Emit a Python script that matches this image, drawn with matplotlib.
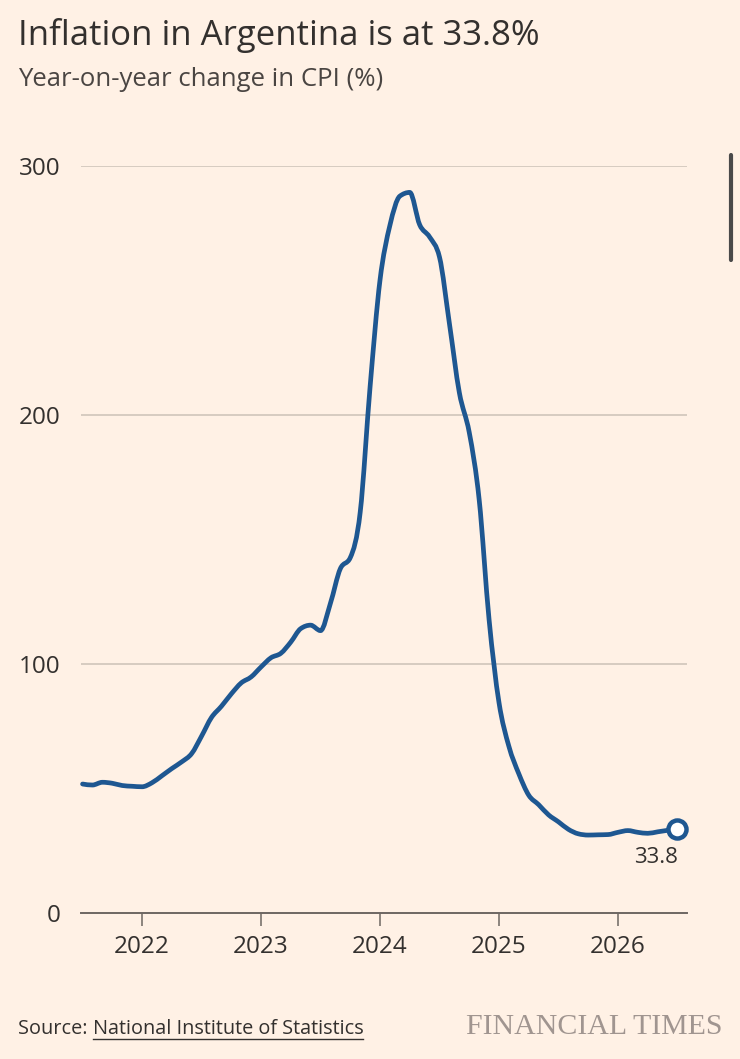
import matplotlib
matplotlib.use('Agg')
import matplotlib.pyplot as plt
from matplotlib.lines import Line2D
from matplotlib.path import Path
from matplotlib.patches import PathPatch
import numpy as np

# monthly year-on-year CPI change (%), Jul 2021 .. Jul 2026
start_year, start_month = 2021, 7
cpi = [51.8, 51.4, 52.5, 52.1, 51.2, 50.9,
       50.7, 52.3, 55.1, 58.0, 60.7, 64.0, 71.0, 78.5, 83.0, 88.0, 92.4, 94.8,
       98.8, 102.5, 104.3, 108.8, 114.2, 115.6, 113.4, 124.4, 138.3, 142.7, 160.9, 211.4,
       254.2, 276.2, 287.9, 289.4, 276.4, 271.5, 263.4, 236.7, 209.0, 193.0, 166.0, 117.8,
       84.5, 66.9, 55.9, 47.3, 43.5, 39.4, 36.6, 33.6, 31.8, 31.3, 31.4, 31.5,
       32.4, 33.1, 32.4, 32.0, 32.6, 33.2, 33.8]
year_ticks = [2022, 2023, 2024, 2025, 2026]
y_ticks = [0, 100, 200, 300]

t = start_year + (start_month - 1) / 12 + np.arange(len(cpi)) / 12
y = np.array(cpi)

BG = '#FFF1E5'
TXT = '#33302E'
LINE = '#1E5791'


def monotone_path(x, y):
    # smooth line through the points, like d3.curveMonotoneX
    n = len(x)
    h = np.diff(x)
    s = np.diff(y) / h
    m = np.zeros(n)
    for i in range(1, n - 1):
        if s[i - 1] * s[i] <= 0:
            m[i] = 0
        else:
            p = (s[i - 1] * h[i] + s[i] * h[i - 1]) / (h[i - 1] + h[i])
            m[i] = np.sign(s[i - 1]) * min(abs(s[i - 1]), abs(s[i]), 0.5 * abs(p)) * 2
    m[0] = (3 * s[0] - m[1]) / 2
    m[-1] = (3 * s[-1] - m[-2]) / 2
    verts = [(x[0], y[0])]
    codes = [Path.MOVETO]
    for i in range(n - 1):
        d = h[i] / 3
        verts += [(x[i] + d, y[i] + d * m[i]), (x[i + 1] - d, y[i + 1] - d * m[i + 1]),
                  (x[i + 1], y[i + 1])]
        codes += [Path.CURVE4] * 3
    return Path(verts, codes)


plt.rcParams['font.family'] = ['Open Sans', 'DejaVu Sans']

fig = plt.figure(figsize=(7.4, 10.59), dpi=100, facecolor=BG)
ax = fig.add_axes([81/740, 1 - 913/1059, (687-81)/740, (913-166)/1059])
ax.set_facecolor(BG)

ax.add_patch(PathPatch(monotone_path(t, y), fill=False, edgecolor=LINE, lw=3.4,
                       joinstyle='round', capstyle='round', zorder=3, clip_on=False))
ax.plot(t[-1], cpi[-1], 'o', ms=13, mfc='white', mec=LINE, mew=3.2, zorder=4, clip_on=False)
ax.annotate(f'{cpi[-1]:.1f}', (t[-1], cpi[-1]), xytext=(0, -13), textcoords='offset points',
            ha='right', va='top', fontsize=16, color=TXT)

ax.set_xlim(2021.487, 2026.58)
ax.set_ylim(0, 300)

for v in y_ticks[1:]:
    ax.axhline(v, color='#CFC5BA', lw=1.2, zorder=1)

for s in ['top', 'right', 'left']:
    ax.spines[s].set_visible(False)
ax.spines['bottom'].set_color('#6E6762')
ax.spines['bottom'].set_linewidth(1.4)

ax.set_xticks(year_ticks)
ax.set_xticklabels([str(v) for v in year_ticks])
ax.set_yticks(y_ticks)
ax.set_yticklabels([str(v) for v in y_ticks])
ax.tick_params(axis='x', length=9.5, width=1.1, color='#6E6762', pad=6,
               labelsize=17.5, labelcolor=TXT)
ax.tick_params(axis='y', length=0, pad=15, labelsize=17.5, labelcolor=TXT)

fig.text(18/740, 1 - 45/1059, 'Inflation in Argentina is at 33.8%', fontsize=25,
         color=TXT, ha='left', va='baseline')
fig.text(18/740, 1 - 86/1059, 'Year-on-year change in CPI (%)', fontsize=18.5,
         color='#4A4542', ha='left', va='baseline')

src = fig.text(18/740, 1 - 1034/1059, 'Source: ', fontsize=14.3, color=TXT,
               ha='left', va='baseline')
fig.canvas.draw()
r = fig.canvas.get_renderer()
bb = src.get_window_extent(r)
x1 = bb.x1 / fig.bbox.width
link = fig.text(x1, 1 - 1034/1059, 'National Institute of Statistics', fontsize=14.3,
                color=TXT, ha='left', va='baseline')
bb2 = link.get_window_extent(r)
uy = 1 - 1039/1059
fig.add_artist(Line2D([bb2.x0 / fig.bbox.width, bb2.x1 / fig.bbox.width], [uy, uy],
                      transform=fig.transFigure, color=TXT, lw=1))

fig.text(722/740, 1 - 1034/1059, 'FINANCIAL TIMES', fontsize=21.5, color='#A09590',
         family=['Liberation Serif', 'DejaVu Serif'], ha='right', va='baseline')

# scrollbar in the screenshot
fig.add_artist(Line2D([731/740, 731/740], [1 - 155/1059, 1 - 260/1059],
                      transform=fig.transFigure, color='#4A4A4A', lw=3,
                      solid_capstyle='round'))

fig.savefig('out.png', dpi=100, facecolor=BG)
